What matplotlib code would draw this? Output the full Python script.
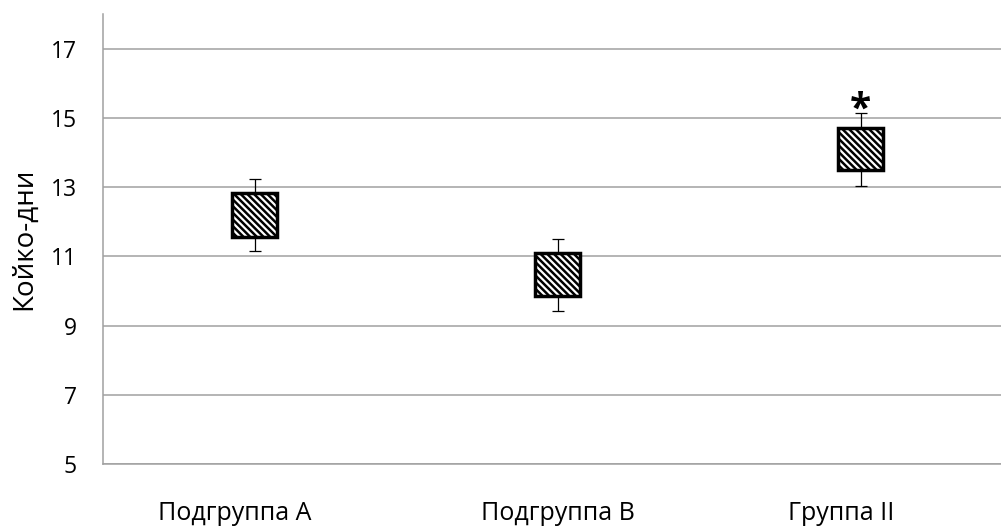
import matplotlib
matplotlib.use("Agg")
import matplotlib.pyplot as plt
import numpy as np

categories = ["Подгруппа А", "Подгруппа В", "Группа II"]
box_low = [11.55, 9.86, 13.48]
box_high = [12.83, 11.11, 14.72]
whisk_low = [11.15, 9.43, 13.04]
whisk_high = [13.23, 11.51, 15.14]
star_flags = [False, False, True]
y_ticks = [5, 7, 9, 11, 13, 15, 17]
y_label = "Койко-дни"

plt.rcParams['font.family'] = ['Open Sans', 'DejaVu Sans']
plt.rcParams['hatch.linewidth'] = 1.8

W, H = 1001, 529
fig = plt.figure(figsize=(W / 100, H / 100), dpi=100)
left, right, top, bottom = 103, 1012, 14, 464
ax = fig.add_axes([left / W, 1 - bottom / H, (right - left) / W, (bottom - top) / H])

x = np.arange(len(categories))
mid = [(a + b) / 2 for a, b in zip(box_low, box_high)]
err = [[m - wl for m, wl in zip(mid, whisk_low)], [wh - m for m, wh in zip(mid, whisk_high)]]

ax.errorbar(x, mid, yerr=err, fmt='none', ecolor='black', elinewidth=0.9,
            capsize=4.5, capthick=0.9, zorder=2)
ax.bar(x, [h - l for l, h in zip(box_low, box_high)], bottom=box_low, width=0.148,
       facecolor='white', edgecolor='black', linewidth=2.5, hatch='\\' * 5, zorder=3)

for xi, flag, wh in zip(x, star_flags, whisk_high):
    if flag:
        ax.text(xi, wh - 0.47, '*', ha='center', va='bottom', fontsize=28,
                fontweight='bold', color='black', zorder=4)

ax.set_xlim(-0.5, 2.5)
ax.set_ylim(5, 18)
ax.set_yticks(y_ticks)
# label placement as in the original (first and last labels sit slightly left)
label_shift = [-0.065, 0.0, -0.063]
ax.set_xticks([xi + s for xi, s in zip(x, label_shift)])
ax.set_xticklabels(categories, fontsize=18)
ax.tick_params(axis='y', length=0, pad=19, labelsize=16.5)
ax.tick_params(axis='x', length=0, pad=27, labelsize=18)
ax.set_ylabel(y_label, fontsize=20, labelpad=9)
ax.grid(axis='y', color='#a0a0a0', linewidth=1.1, zorder=0)
ax.set_axisbelow(True)
for s in ['top', 'right']:
    ax.spines[s].set_visible(False)
for s in ['left', 'bottom']:
    ax.spines[s].set_color('#a0a0a0')
    ax.spines[s].set_linewidth(1.1)

fig.savefig("out.png", dpi=100)
